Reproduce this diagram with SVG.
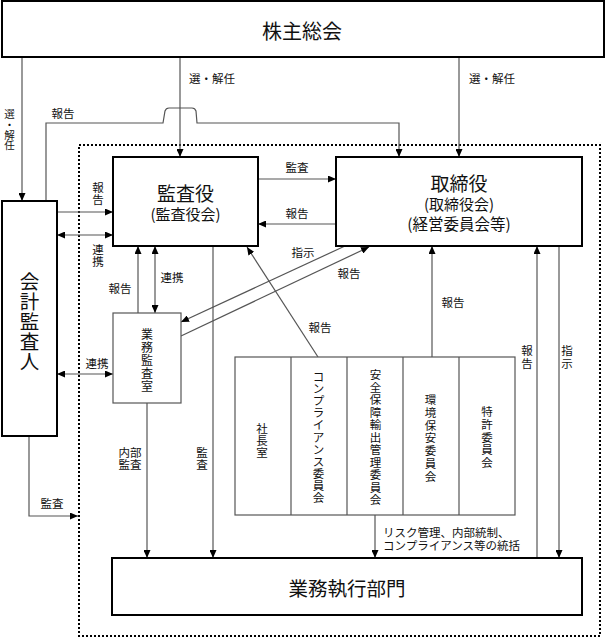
<svg xmlns="http://www.w3.org/2000/svg" width="605" height="638" viewBox="0 0 605 638">
<defs>
<marker id="ah" markerUnits="userSpaceOnUse" markerWidth="9" markerHeight="7" refX="8" refY="3.5" orient="auto-start-reverse">
<path d="M0,0 L8,3.5 L0,7 z" fill="#000"/>
</marker>
<style>
text{font-family:"Noto Sans CJK JP","Liberation Serif",sans-serif;fill:#111;text-anchor:middle;dominant-baseline:central}
.box{fill:#fff;stroke:#000;stroke-width:2}
.thin{fill:#fff;stroke:#555;stroke-width:1.2}
.c{fill:none;stroke:#555;stroke-width:1.2}
.a{marker-end:url(#ah)}
.d{marker-start:url(#ah);marker-end:url(#ah)}
.lb{font-size:11.5px}
.vt{font-size:11.5px}
</style>
</defs>
<rect x="79" y="145" width="521" height="491" fill="none" stroke="#000" stroke-width="2" stroke-dasharray="2,2"/>
<g id="connectors">
<path class="c a" d="M22,57 V201"/>
<path class="c a" d="M180,57 V157"/>
<path class="c a" d="M459,57 V157"/>
<path class="c a" d="M46,201 V123 H163 L165,111 Q166,108 169,108 H192 Q195,108 196,111 L197,123 H399 V157"/>
<path class="c a" d="M57,212 H113"/>
<path class="c d" d="M57,235 H113"/>
<path class="c a" d="M258,179 H336"/>
<path class="c a" d="M336,224 H258"/>
<path class="c a" d="M138,313 V246"/>
<path class="c d" d="M155,246 V313"/>
<path class="c d" d="M57,374 H113"/>
<path class="c a" d="M345,246 L181,322"/>
<path class="c a" d="M181,336 L369,247"/>
<path class="c a" d="M318,357 L247,247"/>
<path class="c a" d="M432,357 V246"/>
<path class="c a" d="M537,558 V246"/>
<path class="c a" d="M559,246 V558"/>
<path class="c a" d="M147,403 V558"/>
<path class="c a" d="M213,246 V558"/>
<path class="c a" d="M375,515 V558"/>
<path class="c a" d="M29,436 V516 H78"/>
</g>
<g id="kabunushi">
<rect class="box" x="2" y="1" width="602" height="56"/>
<text x="302" y="30" font-size="20">株主総会</text>
</g>
<g id="kansayaku">
<rect class="box" x="113" y="157" width="145" height="89"/>
<text x="185.5" y="192" font-size="19">監査役</text>
<text x="185.5" y="213" font-size="15">(監査役会)</text>
</g>
<g id="torishimariyaku">
<rect class="box" x="336" y="157" width="246" height="89"/>
<text x="459" y="182" font-size="19">取締役</text>
<text x="459" y="203" font-size="15">(取締役会)</text>
<text x="459" y="223" font-size="15.5">(経営委員会等)</text>
</g>
<g id="kaikei">
<rect class="box" x="2" y="201" width="55" height="235"/>
<text x="29.5" font-size="19.5"><tspan x="29.5" y="280">会</tspan><tspan x="29.5" y="300">計</tspan><tspan x="29.5" y="320">監</tspan><tspan x="29.5" y="340">査</tspan><tspan x="29.5" y="360">人</tspan></text>
</g>
<g id="gyomukansa">
<rect class="thin" x="113" y="313" width="68" height="90"/>
<text font-size="12"><tspan x="147" y="332.5">業</tspan><tspan x="147" y="345.5">務</tspan><tspan x="147" y="358.5">監</tspan><tspan x="147" y="371.5">査</tspan><tspan x="147" y="384.5">室</tspan></text>
</g>
<g id="committees">
<rect class="thin" x="235" y="357" width="280" height="158"/>
<path class="c" d="M291,357 V515 M347,357 V515 M403,357 V515 M459,357 V515"/>
<text class="vt"><tspan x="262" y="428">社</tspan><tspan x="262" y="440">長</tspan><tspan x="262" y="452">室</tspan></text>
<text class="vt"><tspan x="318.5" y="376">コ</tspan><tspan x="318.5" y="388.1">ン</tspan><tspan x="318.5" y="400.2">プ</tspan><tspan x="318.5" y="412.3">ラ</tspan><tspan x="318.5" y="424.4">イ</tspan><tspan x="318.5" y="436.5">ア</tspan><tspan x="318.5" y="448.6">ン</tspan><tspan x="318.5" y="460.7">ス</tspan><tspan x="318.5" y="472.8">委</tspan><tspan x="318.5" y="484.9">員</tspan><tspan x="318.5" y="497">会</tspan></text>
<text class="vt"><tspan x="375.5" y="374">安</tspan><tspan x="375.5" y="386.5">全</tspan><tspan x="375.5" y="399">保</tspan><tspan x="375.5" y="411.5">障</tspan><tspan x="375.5" y="424">輸</tspan><tspan x="375.5" y="436.5">出</tspan><tspan x="375.5" y="449">管</tspan><tspan x="375.5" y="461.5">理</tspan><tspan x="375.5" y="474">委</tspan><tspan x="375.5" y="486.5">員</tspan><tspan x="375.5" y="499">会</tspan></text>
<text class="vt"><tspan x="430.5" y="399">環</tspan><tspan x="430.5" y="411.8">境</tspan><tspan x="430.5" y="424.6">保</tspan><tspan x="430.5" y="437.4">安</tspan><tspan x="430.5" y="450.2">委</tspan><tspan x="430.5" y="463">員</tspan><tspan x="430.5" y="475.8">会</tspan></text>
<text class="vt"><tspan x="487" y="411">特</tspan><tspan x="487" y="423.8">許</tspan><tspan x="487" y="436.6">委</tspan><tspan x="487" y="449.4">員</tspan><tspan x="487" y="462.2">会</tspan></text>
</g>
<g id="gyomushikko">
<rect class="box" x="112" y="558" width="470" height="57"/>
<text x="347" y="587" font-size="19.5">業務執行部門</text>
</g>
<g id="labels">
<text font-size="10.5"><tspan x="9.5" y="113">選</tspan><tspan x="9.5" y="123.5">・</tspan><tspan x="9.5" y="133.5">解</tspan><tspan x="9.5" y="144">任</tspan></text>
<text class="lb" x="212" y="78">選・解任</text>
<text class="lb" x="492" y="78">選・解任</text>
<text class="lb" x="63" y="113">報告</text>
<text class="lb"><tspan x="98" y="187">報</tspan><tspan x="98" y="199">告</tspan></text>
<text class="lb"><tspan x="98" y="249">連</tspan><tspan x="98" y="261">携</tspan></text>
<text class="lb" x="297" y="167">監査</text>
<text class="lb" x="297" y="213">報告</text>
<text class="lb" x="120" y="288">報告</text>
<text class="lb" x="172" y="277">連携</text>
<text class="lb" x="97" y="363">連携</text>
<text class="lb" x="303" y="252">指示</text>
<text class="lb" x="349" y="273">報告</text>
<text class="lb" x="320" y="327">報告</text>
<text class="lb" x="453" y="302">報告</text>
<text class="lb"><tspan x="527" y="350">報</tspan><tspan x="527" y="363">告</tspan></text>
<text class="lb"><tspan x="567" y="350">指</tspan><tspan x="567" y="363">示</tspan></text>
<text class="lb" x="130" y="451.5">内部</text>
<text class="lb" x="130" y="464">監査</text>
<text class="lb"><tspan x="202" y="452">監</tspan><tspan x="202" y="464">査</tspan></text>
<text class="lb" x="52" y="503">監査</text>
<text class="lb" x="383" y="532" style="text-anchor:start">リスク管理、内部統制、</text>
<text class="lb" x="383" y="545" style="text-anchor:start">コンプライアンス等の統括</text>
</g>
</svg>
